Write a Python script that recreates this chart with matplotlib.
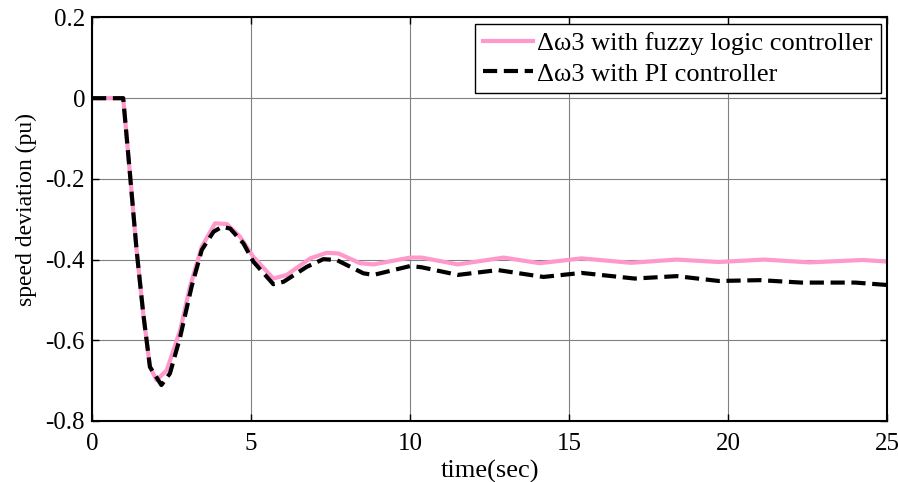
import numpy as np
import matplotlib
matplotlib.use('Agg')
from matplotlib import pyplot as plt

plt.rcParams['font.family'] = ['Liberation Serif', 'DejaVu Serif']

# fuzzy logic controller response
t_fuzzy = [0, 0.98, 1.19, 1.40, 1.61, 1.82, 2.03, 2.35, 2.77, 3.08, 3.45, 3.87, 4.24,
           4.65, 5.07, 5.70, 6.12, 6.86, 7.38, 7.75, 8.43, 8.85, 10.0, 10.36, 11.5,
           12.94, 14.07, 15.39, 16.94, 18.38, 19.7, 21.13, 22.56, 24.24, 25.0]
w_fuzzy = [0, 0, -0.186, -0.376, -0.534, -0.666, -0.699, -0.674, -0.575, -0.467, -0.368,
           -0.310, -0.312, -0.343, -0.393, -0.447, -0.438, -0.397, -0.383, -0.385, -0.409,
           -0.412, -0.395, -0.395, -0.412, -0.395, -0.409, -0.397, -0.408, -0.400, -0.406,
           -0.400, -0.407, -0.401, -0.405]

# PI controller response
t_pi = [0, 0.98, 1.19, 1.40, 1.61, 1.82, 2.18, 2.45, 2.77, 3.13, 3.45, 3.82, 4.08, 4.34,
        4.76, 5.07, 5.70, 6.02, 6.75, 7.27, 7.69, 8.53, 8.85, 10.0, 10.36, 11.5, 12.76,
        14.19, 15.39, 17.06, 18.38, 19.7, 21.0, 22.3, 24.0, 25.0]
w_pi = [0, 0, -0.186, -0.376, -0.534, -0.666, -0.711, -0.682, -0.592, -0.467, -0.376,
        -0.331, -0.319, -0.323, -0.360, -0.405, -0.461, -0.455, -0.418, -0.399, -0.401,
        -0.434, -0.438, -0.416, -0.419, -0.438, -0.426, -0.443, -0.433, -0.447, -0.441,
        -0.453, -0.451, -0.457, -0.457, -0.463]

fig = plt.figure(figsize=(8.98, 4.82), dpi=100)
ax = fig.add_axes([0.1025, 0.1266, 0.8855, 0.8371])

ax.plot(t_fuzzy, w_fuzzy, color='#ff99cc', lw=3, label='Δω3 with fuzzy logic controller')
ax.plot(t_pi, w_pi, color='black', lw=3, ls=(0, (3.4, 1.6)), label='Δω3 with PI controller')

ax.set_xlim(0, 25)
ax.set_ylim(-0.8, 0.2)
ax.set_xticks([0, 5, 10, 15, 20, 25])
ax.set_yticks([-0.8, -0.6, -0.4, -0.2, 0, 0.2])
ax.set_yticklabels(['-0.8', '-0.6', '-0.4', '-0.2', '0', '0.2'])
ax.grid(True, color='#808080', lw=0.8)
ax.tick_params(direction='in', top=True, right=True, labelsize=18, length=5, width=1)
ax.tick_params(axis='x', pad=9)
ax.tick_params(axis='y', pad=5)
for s in ax.spines.values():
    s.set_linewidth(1.5)

ax.set_xlabel('time(sec)', fontsize=19, labelpad=3)
ax.set_ylabel('speed deviation (pu)', fontsize=17)
ax.yaxis.set_label_coords(-0.069, 0.523)

leg = ax.legend(loc='upper right', fontsize=19, handlelength=1.9, handletextpad=0.15,
                fancybox=False, framealpha=1, edgecolor='black', borderpad=0.3,
                labelspacing=0.25, borderaxespad=0.25)
leg.get_frame().set_linewidth(1)

plt.savefig('out.png', dpi=100)
